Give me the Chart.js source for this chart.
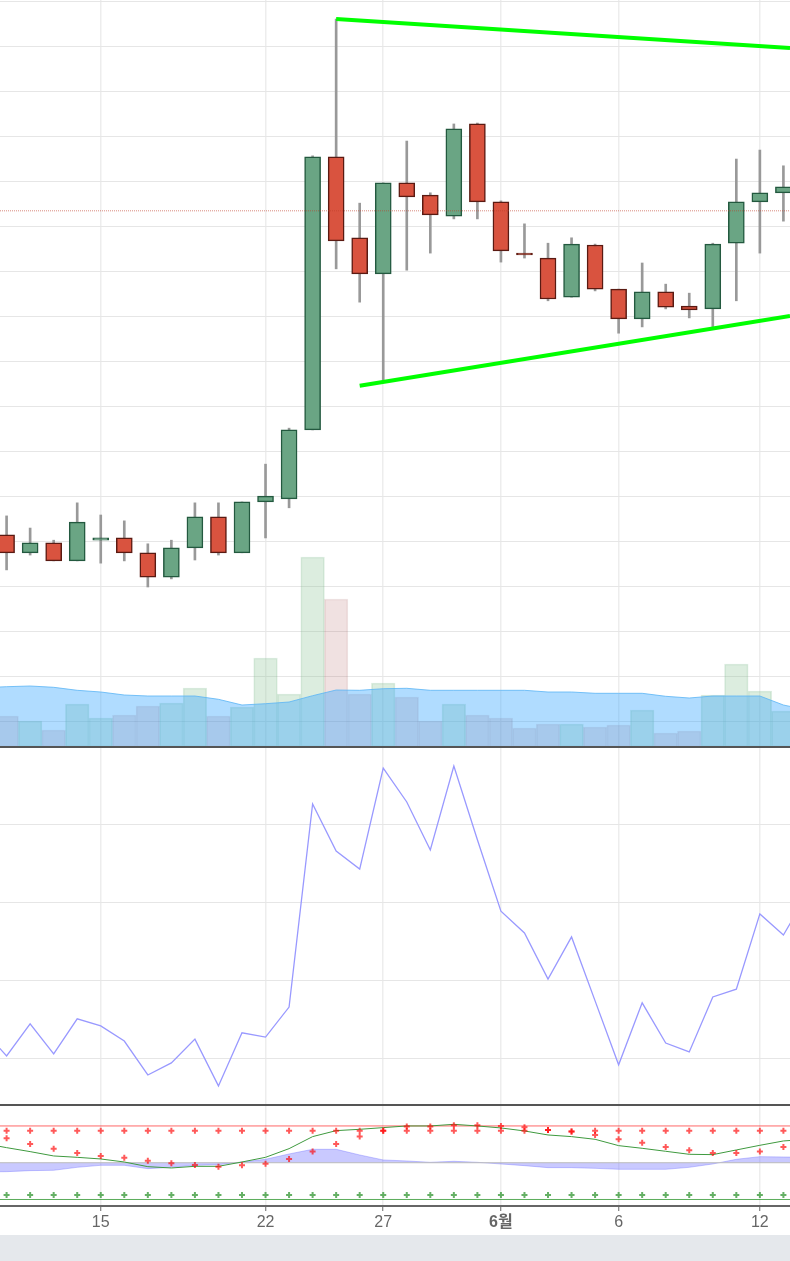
<!DOCTYPE html>
<html>
<head>
<meta charset="utf-8">
<script src="https://cdn.jsdelivr.net/npm/chart.js@4"></script>
<style>
  html, body { margin: 0; padding: 0; background: #e5e8ec; height: 1261px; overflow: hidden; }
  canvas { display: block; background: #fff; }
</style>
</head>
<body>
<canvas id="myChart" width="790" height="1235"></canvas>
<script>
// Candles, index 0 is the first bar on the left
const opens  = [1416,1376,1398,1358,1404,1409,1376,1322,1387,1456,1376,1489,1496,1649,2256,2076,1996,2198,2171,2124,2329,2156,2042,2031,1944,2060,1962,1896,1956,1924,1918,2064,2156,2176];
const highs  = [1458,1431,1404,1487,1460,1447,1396,1404,1487,1487,1489,1573,1653,2258,2562,2153,2198,2291,2176,2329,2331,2158,2107,2064,2076,2062,1962,2020,1973,1953,2064,2251,2271,2236];
const lows   = [1338,1371,1358,1358,1353,1358,1300,1318,1360,1371,1376,1409,1476,1649,2007,1933,1756,2004,2042,2118,2118,2022,2031,1936,1944,1958,1864,1878,1918,1898,1876,1936,2042,2113];
const closes = [1376,1398,1358,1444,1409,1376,1322,1387,1456,1376,1489,1502,1649,2256,2069,1996,2198,2167,2127,2318,2156,2047,2038,1940,2062,1962,1896,1956,1922,1916,2062,2156,2176,2189];

// Volume, and its moving average which starts one bar off the left edge
const volumes = [3100,2600,1700,4300,2900,3200,4100,4400,5900,3100,4000,8900,5300,19000,14800,5300,6400,5000,2600,4300,3200,2900,1900,2300,2300,2000,2200,3700,1400,1600,5200,8300,5600,3600];
const volumeAvg = [5930,6030,6100,5970,5670,5500,5200,5100,5100,5100,4770,4200,4330,4500,5130,5700,5670,5830,5870,5670,5670,5670,5670,5670,5500,5500,5370,5370,5370,5070,4900,5100,5100,5100,4200,3700];

// Both of these also start one bar off the left edge and end one bar off the right
const rsiValues = [27.4,20.8,29.0,21.3,30.3,28.5,24.6,15.9,19.0,25.1,13.1,26.7,25.6,33.3,85.4,73.3,68.7,94.6,85.9,73.6,95.1,76.2,57.9,52.3,40.5,51.3,34.9,18.5,34.4,24.1,21.8,35.9,37.9,57.2,51.8,62.1];
const signalLine = [52.8,41,30.2,18.4,14.7,10.2,2,-10.7,-14.3,-9.8,-9.8,2,14.7,38.3,71,87.3,90.9,95.5,100,100,104.5,100,94.6,86.4,75.5,71,63.7,46.5,39.2,31.1,22.9,22,34.7,47.4,59.2,63.7];
const histArea = [-25,-24.3,-21.5,-20.6,-12.5,-7,-7,-16.1,-12.5,-7,-5.2,2,9.3,23.8,36.5,36.5,21.1,7.5,4.8,1.1,3.9,1.1,-3.4,-7.9,-13.4,-13.4,-15.2,-17.9,-17.9,-17.9,-12.5,-3.4,9.3,16.5,15.6,14.7];

// Dots of the lower pane
const redDotsTop = [87.3,87.3,87.3,87.3,87.3,87.3,87.3,87.3,87.3,87.3,87.3,87.3,87.3,87.3,87.3,87.3,87.3,87.3,87.3,87.3,87.3,87.3,87.3,89.1,84.6,87.3,87.3,87.3,87.3,87.3,87.3,87.3,87.3,87.3];
const redDotsLow = [66.4,51,38.3,26.5,18.4,13.8,5.7,-1.6,-6.1,-10.7,-7,-2.5,10.2,30.2,51,71,87.3,98.2,98.2,101.8,101.8,100,96.4,89.1,84.6,75.5,63.7,54.6,42.9,33.8,26.5,26.5,30.2,42.9];
const greenDots = [-87.8,-87.8,-87.8,-87.8,-87.8,-87.8,-87.8,-87.8,-87.8,-87.8,-87.8,-87.8,-87.8,-87.8,-87.8,-87.8,-87.8,-87.8,-87.8,-87.8,-87.8,-87.8,-87.8,-87.8,-87.8,-87.8,-87.8,-87.8,-87.8,-87.8,-87.8,-87.8,-87.8,-87.8];

// Trend lines and levels, as [bar, value]
const trendTop = [[14, 2562], [33.28, 2498]];
const trendBottom = [[15, 1747], [33.28, 1902]];
const priceLevel = 2136;
const upperLevel = 100;
const middleLevel = 0;
const lowerLevel = -100;

// Date ticks
const tickBars = [4, 11, 16, 21, 26, 32];
const tickLabels = ['15', '22', '27', '6월', '6', '12'];

const xMin = -0.28;
const xMax = 33.28;

const atBars = (values, start) => values.map((v, i) => ({ x: i + start, y: v }));
const asPoints = pairs => pairs.map(p => ({ x: p[0], y: p[1] }));
const flat = y => [{ x: xMin, y: y }, { x: xMax, y: y }];

const isUp = i => closes[i] >= opens[i];
const GRID = '#e6e6e6';

const dots = (values, yAxisID, color) => ({
  type: 'line',
  data: atBars(values, 0),
  yAxisID: yAxisID,
  showLine: false,
  pointStyle: 'cross',
  pointRadius: 3,
  pointBorderWidth: 2,
  pointBorderColor: color,
  pointBackgroundColor: color,
  order: 1
});

const levelLine = (y, yAxisID, color, dash) => ({
  type: 'line',
  data: flat(y),
  yAxisID: yAxisID,
  borderColor: color,
  borderWidth: 1,
  borderDash: dash || [],
  pointRadius: 0,
  order: 3
});

const paneLines = {
  id: 'paneLines',
  afterDatasetsDraw(chart) {
    const { ctx, chartArea, scales } = chart;
    ctx.save();
    ctx.fillStyle = '#555';
    [scales.yPrice.bottom, scales.yRsi.bottom].forEach(y => {
      ctx.fillRect(chartArea.left, Math.round(y) - 1, chartArea.width, 2);
    });
    ctx.restore();
  }
};

const myChart = new Chart(document.getElementById('myChart').getContext('2d'), {
  data: {
    datasets: [
      // volume pane
      {
        type: 'bar',
        data: atBars(volumes, 0),
        yAxisID: 'yVolume',
        grouped: false,
        barThickness: 23.6,
        backgroundColor: volumes.map((v, i) => isUp(i) ? 'rgba(140,195,150,0.30)' : 'rgba(170,90,90,0.18)'),
        borderColor: volumes.map((v, i) => isUp(i) ? 'rgba(120,185,135,0.25)' : 'rgba(160,90,90,0.15)'),
        borderWidth: 1,
        borderSkipped: false,
        order: 9
      },
      {
        type: 'line',
        data: atBars(volumeAvg, -1),
        yAxisID: 'yVolume',
        borderColor: 'rgba(90,180,245,0.8)',
        borderWidth: 1,
        backgroundColor: 'rgba(47,163,255,0.38)',
        fill: { value: 0 },
        pointRadius: 0,
        order: 8
      },
      // candles
      {
        type: 'bar',
        data: highs.map((h, i) => ({ x: i, y: [lows[i], h] })),
        yAxisID: 'yPrice',
        grouped: false,
        barThickness: 2,
        backgroundColor: '#999',
        order: 6
      },
      {
        type: 'bar',
        data: opens.map((o, i) => ({ x: i, y: [o, closes[i]] })),
        yAxisID: 'yPrice',
        grouped: false,
        barThickness: 16,
        backgroundColor: opens.map((o, i) => isUp(i) ? '#6aa584' : '#d9533f'),
        borderColor: opens.map((o, i) => isUp(i) ? '#23593f' : '#5a1a12'),
        borderWidth: 1.5,
        borderSkipped: false,
        order: 5
      },
      levelLine(priceLevel, 'yPrice', 'rgba(190,60,40,0.6)', [1, 1]),
      {
        type: 'line',
        data: asPoints(trendTop),
        yAxisID: 'yPrice',
        borderColor: '#00ff00',
        borderWidth: 4,
        pointRadius: 0,
        order: 2
      },
      {
        type: 'line',
        data: asPoints(trendBottom),
        yAxisID: 'yPrice',
        borderColor: '#00ff00',
        borderWidth: 4,
        pointRadius: 0,
        order: 2
      },
      // rsi pane
      {
        type: 'line',
        data: atBars(rsiValues, -1),
        yAxisID: 'yRsi',
        borderColor: '#9999ff',
        borderWidth: 1.3,
        pointRadius: 0,
        order: 2
      },
      // lower pane
      {
        type: 'line',
        data: atBars(histArea, -1),
        yAxisID: 'yOsc',
        borderColor: 'rgba(100,100,255,0.35)',
        borderWidth: 1,
        backgroundColor: 'rgba(100,100,255,0.35)',
        fill: { value: 0 },
        pointRadius: 0,
        order: 4
      },
      levelLine(upperLevel, 'yOsc', 'rgba(255,0,0,0.6)'),
      levelLine(middleLevel, 'yOsc', '#bbb'),
      levelLine(lowerLevel, 'yOsc', 'rgba(0,128,0,0.65)'),
      {
        type: 'line',
        data: atBars(signalLine, -1),
        yAxisID: 'yOsc',
        borderColor: '#3f9a3f',
        borderWidth: 1,
        pointRadius: 0,
        order: 2
      },
      dots(redDotsTop, 'yOsc', 'rgba(255,0,0,0.65)'),
      dots(redDotsLow, 'yOsc', 'rgba(255,0,0,0.65)'),
      dots(greenDots, 'yOsc', 'rgba(50,150,50,0.75)')
    ]
  },
  options: {
    responsive: false,
    animation: false,
    layout: { padding: 0, autoPadding: false },
    plugins: { legend: { display: false }, tooltip: { enabled: false } },
    scales: {
      x: {
        type: 'linear',
        position: 'bottom',
        offset: false,
        min: xMin,
        max: xMax,
        afterBuildTicks: s => { s.ticks = tickBars.map(v => ({ value: v })); },
        afterFit: s => { s.height = 29; },
        border: { color: '#666', width: 2 },
        grid: { offset: false, color: 'rgba(0,0,0,0.07)', lineWidth: 1.5, tickLength: 5, tickColor: '#666', tickWidth: 1 },
        ticks: {
          autoSkip: false,
          maxRotation: 0,
          padding: 2,
          color: '#666',
          font: ctx => ({ family: '"Liberation Sans", "Noto Sans CJK KR", Arial, sans-serif', size: 16, weight: tickLabels[ctx.index] === '6월' ? 'bold' : 'normal' }),
          callback: (v, i) => tickLabels[i]
        }
      },
      // stacked axes are laid out bottom first
      yOsc: {
        position: 'left',
        stack: 'panes',
        stackWeight: 101,
        min: -117.7,
        max: 157,
        afterFit: s => { s.width = 0; },
        border: { display: false },
        grid: { display: false, drawTicks: false },
        ticks: { display: false }
      },
      yRsi: {
        position: 'left',
        stack: 'panes',
        stackWeight: 358,
        min: 8.2,
        max: 100,
        afterFit: s => { s.width = 0; },
        border: { display: false },
        grid: { color: GRID, drawTicks: false },
        ticks: { display: false, stepSize: 20, includeBounds: false }
      },
      yPrice: {
        position: 'left',
        stack: 'panes',
        stackWeight: 747,
        min: 944.44,
        max: 2604.44,
        afterFit: s => { s.width = 0; },
        border: { display: false },
        grid: { color: GRID, drawTicks: false },
        ticks: { display: false, stepSize: 100, includeBounds: false }
      },
      // spans the whole chart height, its zero falls on the foot of the price pane
      yVolume: {
        position: 'right',
        display: false,
        min: -45900,
        max: 74700
      }
    }
  },
  plugins: [paneLines]
});
</script>
</body>
</html>
